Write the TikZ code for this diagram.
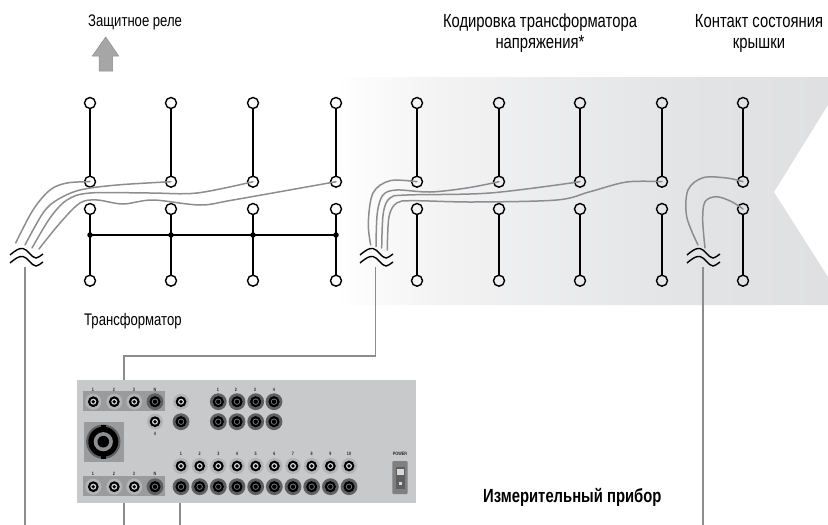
\documentclass[tikz,border=0pt]{standalone}
\usepackage{fontspec}
\setmainfont{Liberation Sans}[FakeStretch=0.78]
\definecolor{wirec}{HTML}{8C8D8F}
\definecolor{panelc}{HTML}{C8C9CB}
\definecolor{boxc}{HTML}{9A9B9D}
\definecolor{jackL}{HTML}{B3B4B6}
\definecolor{jackD}{HTML}{5E5F61}
\pgfdeclarehorizontalshading{bandshade}{100bp}{
  rgb(0bp)=(1,1,1);
  rgb(25bp)=(1,1,1);
  rgb(35.6bp)=(0.953,0.953,0.957);
  rgb(60bp)=(0.89,0.894,0.902);
  rgb(75bp)=(0.875,0.878,0.886);
  rgb(100bp)=(0.875,0.878,0.886)}
\tikzset{
  term/.style={circle,draw=black,line width=1.4pt,minimum size=11pt,inner sep=0pt},
  tie/.style={draw=black,line width=1.6pt},
  wire/.style={draw=wirec,line width=1.5pt,line cap=round},
  wave/.style={draw=black,line width=1.4pt},
  lbl/.style={font=\fontsize{19}{21}\selectfont,align=center,inner sep=0pt},
  lbls/.style={font=\fontsize{16.8}{20}\selectfont,inner sep=0pt},
  tinyl/.style={font=\fontsize{4.8}{5}\selectfont\bfseries,inner sep=0pt,text=black!85},
  dotn/.style={circle,fill=black,minimum size=5.5pt,inner sep=0pt}
}
\newcommand{\lightjack}[2]{%
  \fill[jackL] (#1,#2) circle (8);
  \fill[black] (#1,#2) circle (5.4);
  \fill[white!85!black] (#1,#2) circle (3);
  \fill[black] (#1,#2) circle (1.9);}
\newcommand{\darkjack}[2]{%
  \fill[jackD] (#1,#2) circle (8.4);
  \fill[black] (#1,#2) circle (5.6);
  \fill[jackD!85] (#1,#2) circle (3.2);
  \fill[black] (#1,#2) circle (2.2);}
\newcommand{\breakmark}[1]{%
  \begin{scope}[shift={(#1,0)}]
    \draw[wave] (-16,255) .. controls (-10,250) and (-7,248) .. (-3,248.5) .. controls (2,249.5) and (5,257.5) .. (10,258) .. controls (12,258) and (14,256) .. (17,254);
    \draw[wave] (-16,263) .. controls (-10,258) and (-7,256) .. (-3,256.5) .. controls (2,257.5) and (5,265.5) .. (10,266) .. controls (12,266) and (14,264) .. (17,262);
  \end{scope}}
\begin{document}
\begin{tikzpicture}[x=1pt,y=-1pt]
\useasboundingbox (0,0) rectangle (828,525);
% band
\shade[shading=bandshade]
  (335,77) -- (828,77) -- (828,105) -- (774,192) -- (828,277) -- (828,305) -- (335,305) -- cycle;
% terminals
\foreach \c/\x in {1/90,2/171,3/253,4/336,5/417,6/499,7/580,8/662,9/743}{
  \node[term] (a\c) at (\x,103) {};
  \node[term] (b\c) at (\x,181.7) {};
  \node[term] (c\c) at (\x,209) {};
  \node[term] (d\c) at (\x,280.7) {};
  \draw[tie] (a\c) -- (b\c);
  \draw[tie] (c\c) -- (d\c);
}
% bus
\foreach \c/\x in {1/90,2/171,3/253,4/336}{\node[dotn] (j\c) at (\x,235) {};}
\draw[tie] (j1.center) -- (j2.center) -- (j3.center) -- (j4.center);
% break marks
\breakmark{26}
\breakmark{376}
\breakmark{703}
% wire group 1
\draw[wire] plot[smooth,tension=.55] coordinates {(15.7,243) (33,210) (50,190) (67,183) (b1.center)};
\draw[wire] plot[smooth,tension=.55] coordinates {(25,245) (43,213) (57,200) (80,190) (117,185) (b2.center)};
\draw[wire] plot[smooth,tension=.55] coordinates {(32,248) (50,218) (67,200) (90,193) (150,193) (197,193) (b3.center)};
\draw[wire] plot[smooth,tension=.55] coordinates {(39,249) (60,223) (80,203) (97,200) (123,204) (153,200) (200,205) (233,200) (b4.center)};
% wire group 2
\draw[wire] plot[smooth,tension=.55] coordinates {(370.7,245) (368.3,223) (373,193) (390,180.7) (b5.center)};
\draw[wire] plot[smooth,tension=.55] coordinates {(376,246.7) (377.3,213) (383,195) (396.7,190) (430,192) (466.7,188) (b6.center)};
\draw[wire] plot[smooth,tension=.55] coordinates {(381.7,248) (383.3,213) (390,198) (406.7,195) (490,193) (b7.center)};
\draw[wire] plot[smooth,tension=.55] coordinates {(387.3,250) (389,216.7) (396.7,203) (413,200.7) (473,202) (556.7,200) (590,191.7) (626.7,182) (b8.center)};
% wire group 3
\draw[wire] plot[smooth,tension=.55] coordinates {(698,245) (686.7,216.7) (688,190) (703,177.7) (726.7,178) (b9.center)};
\draw[wire] plot[smooth,tension=.55] coordinates {(705,248) (702.7,220) (705,201.7) (716.7,196.7) (731.7,201.7) (c9.center)};
% panel
\fill[panelc] (77,380) rectangle (416,502.7);
\coordinate (pTop) at (124,380);
\coordinate (pBotA) at (124,502.7);
\coordinate (pBotB) at (180,502.7);
\coordinate (brk1) at (25,267);
\coordinate (brk2) at (375.7,267);
\coordinate (brk3) at (703,267);
\draw[wire,line cap=butt] (brk1) -- (25,525);
\draw[wire,line cap=butt] (brk2) |- (pTop |- 0,356) -- (pTop);
\draw[wire,line cap=butt] (brk3) -- (703,525);
\draw[wire,line cap=butt] (pBotA) -- (124,525);
\draw[wire,line cap=butt] (pBotB) -- (180,525);
\fill[boxc] (82.7,391) rectangle (165,411);
\fill[boxc] (82.7,476) rectangle (165,496);
\fill[boxc] (84,421.7) rectangle (124,461.7);
% speakon
\fill[jackD] (103.3,441.7) circle (17.2);
\fill[black] (103.3,441.7) circle (15);
\fill[black] (100.5,424.5) rectangle (106,428);
\fill[black] (100.5,455.5) rectangle (106,459);
\fill[jackD!70] (103.3,441.7) circle (9.6);
\fill[black] (103.3,441.7) circle (5.8);
% jacks
\foreach \y in {401.7,486.7}{
  \foreach \x in {93.3,114.3,134.3}{\lightjack{\x}{\y}}
  \darkjack{155}{\y}
}
\lightjack{155}{421.7}
\lightjack{181}{401.7}
\darkjack{181}{421.7}
\foreach \x in {218.3,237,255.7,274}{\darkjack{\x}{401.7}\darkjack{\x}{421.7}}
\foreach \i in {0,...,9}{
  \pgfmathsetmacro{\xx}{181+18.67*\i}
  \lightjack{\xx}{466}
  \darkjack{\xx}{486.7}
}
% tiny labels
\foreach \t/\x in {1/93,2/114,3/134,N/155}{
  \node[tinyl] (ta\t) at (\x,389.5) {\t};
  \node[tinyl] (tb\t) at (\x,473.5) {\t};
}
\node[tinyl] (tc4) at (155,434) {4};
\foreach \t/\x in {1/218,2/236,3/255,4/274}{\node[tinyl] (td\t) at (\x,389.5) {\t};}
\foreach \t [count=\i from 0] in {1,...,10}{
  \pgfmathsetmacro{\xx}{181+18.67*\i}
  \node[tinyl] (te\t) at (\xx,453.5) {\t};
}
\node[tinyl] (pw) at (400,453.5) {POWER};
% switch
\fill[black!50,rounded corners=1pt] (392.3,461) rectangle (407.7,494);
\fill[jackD] (396,466.7) rectangle (404.7,489);
\fill[white!85!black] (397.2,468.5) rectangle (403.5,474.5);
\fill[white!85!black] (398.8,482) rectangle (401.5,485);
% up arrow
\draw[fill=black!35,draw=black!45,line width=.5pt]
  (105.7,37) -- (118.7,56) -- (112.7,56) -- (112.7,71) -- (99,71) -- (99,56) -- (92.3,56) -- cycle;
% texts
\node[lbls,anchor=west] (t1) at (88,22) {Защитное реле};
\node[lbl] (t2) at (540,33.5) {Кодировка трансформатора\\напряжения*};
\node[lbl] (t3) at (759,33.5) {Контакт состояния\\крышки};
\node[lbls,anchor=west] (t4) at (84,321) {Трансформатор};
\node[lbl,anchor=west,font=\fontsize{19}{21}\selectfont\bfseries] (t5) at (483,497) {Измерительный прибор};
\end{tikzpicture}
\end{document}
